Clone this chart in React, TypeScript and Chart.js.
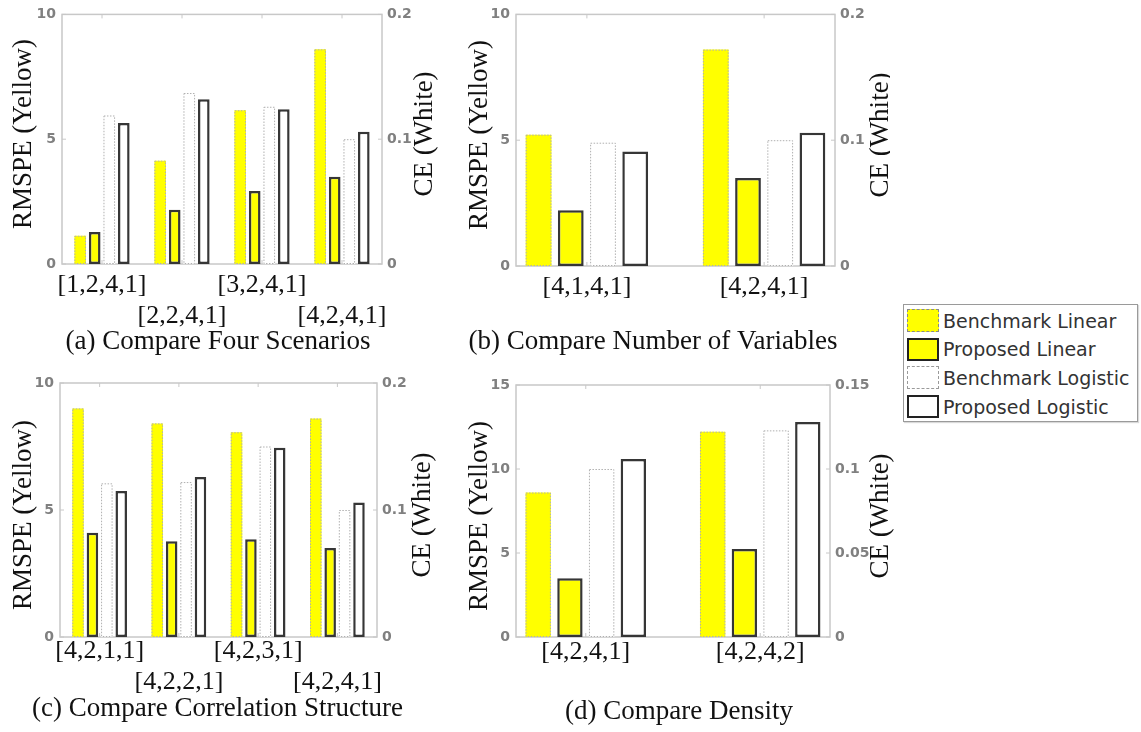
import React, { useEffect, useRef } from 'react';
import { Chart, registerables } from 'chart.js';

Chart.register(...registerables);

// ---- (a) Compare Four Scenarios ----
const scenarioLabels = ['[1,2,4,1]', '[2,2,4,1]', '[3,2,4,1]', '[4,2,4,1]'];
const scenarioBenchLinear = [1.13, 4.14, 6.16, 8.6];
const scenarioPropLinear = [1.28, 2.17, 2.92, 3.5];
const scenarioBenchLogistic = [0.119, 0.137, 0.126, 0.1];
const scenarioPropLogistic = [0.113, 0.132, 0.124, 0.106];

// ---- (b) Compare Number of Variables ----
const variableLabels = ['[4,1,4,1]', '[4,2,4,1]'];
const variableBenchLinear = [5.22, 8.6];
const variablePropLinear = [2.22, 3.5];
const variableBenchLogistic = [0.098, 0.1];
const variablePropLogistic = [0.091, 0.106];

// ---- (c) Compare Correlation Structure ----
const correlationLabels = ['[4,2,1,1]', '[4,2,2,1]', '[4,2,3,1]', '[4,2,4,1]'];
const correlationBenchLinear = [9.0, 8.41, 8.06, 8.6];
const correlationPropLinear = [4.1, 3.77, 3.85, 3.5];
const correlationBenchLogistic = [0.121, 0.122, 0.15, 0.1];
const correlationPropLogistic = [0.115, 0.126, 0.149, 0.106];

// ---- (d) Compare Density ----
const densityLabels = ['[4,2,4,1]', '[4,2,4,2]'];
const densityBenchLinear = [8.6, 12.22];
const densityPropLinear = [3.5, 5.24];
const densityBenchLogistic = [0.1, 0.123];
const densityPropLogistic = [0.106, 0.128];

// ---- axis ticks ----
const rmspeTicks = [0, 5, 10];
const ceTicks = [0, 0.1, 0.2];
const densityRmspeTicks = [0, 5, 10, 15];
const densityCeTicks = [0, 0.05, 0.1, 0.15];

const seriesNames = ['Benchmark Linear', 'Proposed Linear', 'Benchmark Logistic', 'Proposed Logistic'];
const leftAxisTitle = 'RMSPE (Yellow)';
const rightAxisTitle = 'CE (White)';

const SERIF = "'Liberation Serif', 'Times New Roman', serif";
const SANS = "'DejaVu Sans', 'Liberation Sans', sans-serif";
const YELLOW = '#ffff00';
const EDGE = '#363636';
const DOTTED = '#b0b0b0';
const FRAME = '#c8c8c8';
const TICK_TEXT = '#808080';

const TITLE_SIZE = 27;
const TITLE_LINE = 1.2;
const TITLE_PULL = 14; // caption is allowed to sit over the lower tick-label row area
const LABEL_SIZE = 26;
const LABEL_LINE = 1.19;

interface PanelSpec {
  title: string;
  labels: string[];
  benchLinear: number[];
  propLinear: number[];
  benchLogistic: number[];
  propLogistic: number[];
  rmspeTicks: number[];
  ceTicks: number[];
  stagger: boolean;
  xMin: number;
  xMax: number;
  // canvas placement on the page
  left: number;
  top: number;
  width: number;
  // plot box on the page
  plotL: number;
  plotT: number;
  plotR: number;
  plotB: number;
  // caption centre
  subX: number;
  subY: number;
  // rotated axis titles
  leftTitleX: number;
  rightTitleX: number;
  axisTitleY: number;
  labelPad: number;
}

const panels: PanelSpec[] = [
  {
    title: '(a) Compare Four Scenarios',
    labels: scenarioLabels,
    benchLinear: scenarioBenchLinear,
    propLinear: scenarioPropLinear,
    benchLogistic: scenarioBenchLogistic,
    propLogistic: scenarioPropLogistic,
    rmspeTicks,
    ceTicks,
    stagger: true,
    xMin: 0.5,
    xMax: 4.5,
    left: 0,
    top: 0,
    width: 460,
    plotL: 62,
    plotT: 13,
    plotR: 382,
    plotB: 264,
    subX: 218,
    subY: 342,
    leftTitleX: 24,
    rightTitleX: 425,
    axisTitleY: 134,
    labelPad: 5.5,
  },
  {
    title: '(b) Compare Number of Variables',
    labels: variableLabels,
    benchLinear: variableBenchLinear,
    propLinear: variablePropLinear,
    benchLogistic: variableBenchLogistic,
    propLogistic: variablePropLogistic,
    rmspeTicks,
    ceTicks,
    stagger: false,
    xMin: 0.6,
    xMax: 2.4,
    left: 420,
    top: 0,
    width: 470,
    plotL: 516,
    plotT: 13,
    plotR: 835,
    plotB: 266,
    subX: 653,
    subY: 342,
    leftTitleX: 480,
    rightTitleX: 881,
    axisTitleY: 135,
    labelPad: 5.5,
  },
  {
    title: '(c) Compare Correlation Structure',
    labels: correlationLabels,
    benchLinear: correlationBenchLinear,
    propLinear: correlationPropLinear,
    benchLogistic: correlationBenchLogistic,
    propLogistic: correlationPropLogistic,
    rmspeTicks,
    ceTicks,
    stagger: true,
    xMin: 0.5,
    xMax: 4.5,
    left: 0,
    top: 360,
    width: 460,
    plotL: 60,
    plotT: 383,
    plotR: 377,
    plotB: 637,
    subX: 217.5,
    subY: 709,
    leftTitleX: 24,
    rightTitleX: 423,
    axisTitleY: 515,
    labelPad: -1.5,
  },
  {
    title: '(d) Compare Density',
    labels: densityLabels,
    benchLinear: densityBenchLinear,
    propLinear: densityPropLinear,
    benchLogistic: densityBenchLogistic,
    propLogistic: densityPropLogistic,
    rmspeTicks: densityRmspeTicks,
    ceTicks: densityCeTicks,
    stagger: false,
    xMin: 0.6,
    xMax: 2.4,
    left: 460,
    top: 360,
    width: 440,
    plotL: 516,
    plotT: 385,
    plotR: 830,
    plotB: 637,
    subX: 679,
    subY: 712,
    leftTitleX: 480,
    rightTitleX: 881,
    axisTitleY: 516,
    labelPad: 0,
  },
];

function geometry(p: PanelSpec) {
  const lh = TITLE_SIZE * TITLE_LINE;
  const height = Math.ceil(p.subY - p.top + lh / 2);
  const padL = 0;
  const padR = p.width - 2 * (p.subX - p.left) + padL;
  // caption box starts TITLE_PULL below where its text would normally begin
  const titleBoxTop = p.subY - lh / 2 + TITLE_PULL;
  return {
    height,
    padL,
    padR,
    padT: p.plotT - p.top,
    padB: height - (p.subY - p.top + lh / 2),
    xHeight: titleBoxTop - p.plotB,
    yWidth: p.plotL - p.left - padL,
    y1Width: p.left + p.width - padR - p.plotR,
  };
}

const fmt = (v: number) => String(Number(v.toFixed(4)));

function PanelChart({ spec }: { spec: PanelSpec }) {
  const ref = useRef<HTMLCanvasElement>(null);
  const g = geometry(spec);

  useEffect(() => {
    const canvas = ref.current;
    if (!canvas) return;
    const xs = spec.labels.map((_, i) => i + 1);
    const toPoints = (vals: number[]) => vals.map((v, i) => ({ x: xs[i], y: v }));

    // light axis box with inward tick marks
    const framePlugin = {
      id: 'frame',
      beforeDatasetsDraw(chart: any) {
        const { ctx, chartArea: a, scales } = chart;
        ctx.save();
        ctx.strokeStyle = FRAME;
        ctx.lineWidth = 1.5;
        ctx.strokeRect(a.left, a.top, a.right - a.left, a.bottom - a.top);
        ctx.lineWidth = 1;
        ctx.beginPath();
        scales.x.ticks.forEach((t: any) => {
          const px = scales.x.getPixelForValue(t.value);
          ctx.moveTo(px, a.top);
          ctx.lineTo(px, a.top + 4);
          ctx.moveTo(px, a.bottom);
          ctx.lineTo(px, a.bottom - 4);
        });
        scales.y.ticks.forEach((t: any) => {
          const py = scales.y.getPixelForValue(t.value);
          ctx.moveTo(a.left, py);
          ctx.lineTo(a.left + 4, py);
        });
        scales.y1.ticks.forEach((t: any) => {
          const py = scales.y1.getPixelForValue(t.value);
          ctx.moveTo(a.right, py);
          ctx.lineTo(a.right - 4, py);
        });
        ctx.stroke();
        ctx.restore();
      },
    };

    // dotted outline around the benchmark bars
    const outlinePlugin = {
      id: 'dottedOutline',
      afterDatasetsDraw(chart: any) {
        const { ctx } = chart;
        ctx.save();
        ctx.strokeStyle = DOTTED;
        ctx.lineWidth = 1;
        ctx.setLineDash([1.5, 1.5]);
        [0, 2].forEach((di) => {
          const meta = chart.getDatasetMeta(di);
          meta.data.forEach((el: any) => {
            const { x, y, base, width } = el.getProps(['x', 'y', 'base', 'width'], true);
            ctx.strokeRect(x - width / 2 + 0.5, y + 0.5, width - 1, base - y - 1);
          });
        });
        ctx.restore();
      },
    };

    // rotated axis titles (both read bottom-to-top)
    const axisTitlePlugin = {
      id: 'axisTitles',
      afterDraw(chart: any) {
        const { ctx } = chart;
        const draw = (text: string, x: number) => {
          ctx.save();
          ctx.translate(x - spec.left, spec.axisTitleY - spec.top);
          ctx.rotate(-Math.PI / 2);
          ctx.fillStyle = '#111';
          ctx.font = `${TITLE_SIZE}px ${SERIF}`;
          ctx.textAlign = 'center';
          ctx.textBaseline = 'middle';
          ctx.fillText(text, 0, 0);
          ctx.restore();
        };
        draw(leftAxisTitle, spec.leftTitleX);
        draw(rightAxisTitle, spec.rightTitleX);
      },
    };

    const tickFont = { family: SANS, size: 14, weight: 'bold' as const };

    const chart = new Chart(canvas, {
      type: 'bar',
      data: {
        datasets: [
          {
            label: seriesNames[0],
            data: toPoints(spec.benchLinear),
            yAxisID: 'y',
            backgroundColor: YELLOW,
            borderWidth: 0,
          },
          {
            label: seriesNames[1],
            data: toPoints(spec.propLinear),
            yAxisID: 'y',
            backgroundColor: YELLOW,
            borderColor: EDGE,
            borderWidth: 2.5,
            borderSkipped: false,
          },
          {
            label: seriesNames[2],
            data: toPoints(spec.benchLogistic),
            yAxisID: 'y1',
            backgroundColor: '#ffffff',
            borderWidth: 0,
          },
          {
            label: seriesNames[3],
            data: toPoints(spec.propLogistic),
            yAxisID: 'y1',
            backgroundColor: '#ffffff',
            borderColor: EDGE,
            borderWidth: 2.5,
            borderSkipped: false,
          },
        ] as any,
      },
      options: {
        responsive: false,
        animation: false,
        devicePixelRatio: 1,
        layout: { padding: { left: g.padL, right: g.padR, top: g.padT, bottom: g.padB } },
        datasets: { bar: { categoryPercentage: 0.727, barPercentage: 0.8 } },
        plugins: {
          legend: { display: false },
          tooltip: { enabled: false },
          title: {
            display: true,
            text: spec.title,
            position: 'bottom',
            color: '#111',
            padding: { top: -TITLE_PULL, bottom: 0 },
            font: { family: SERIF, size: TITLE_SIZE, weight: 'normal', lineHeight: TITLE_LINE },
          },
        },
        scales: {
          x: {
            type: 'linear',
            min: spec.xMin,
            max: spec.xMax,
            offset: false,
            grid: { display: false, drawTicks: false },
            border: { display: false },
            afterBuildTicks: (s: any) => {
              s.ticks = xs.map((v) => ({ value: v }));
            },
            afterFit: (s: any) => {
              s.height = g.xHeight;
            },
            ticks: {
              autoSkip: false,
              maxRotation: 0,
              minRotation: 0,
              padding: spec.labelPad,
              color: '#111',
              font: { family: SERIF, size: LABEL_SIZE, lineHeight: LABEL_LINE },
              callback: (_v: any, i: number) =>
                spec.stagger && i % 2 === 1 ? ['', spec.labels[i]] : spec.labels[i],
            },
          },
          y: {
            type: 'linear',
            position: 'left',
            min: spec.rmspeTicks[0],
            max: spec.rmspeTicks[spec.rmspeTicks.length - 1],
            grid: { display: false, drawTicks: false },
            border: { display: false },
            afterBuildTicks: (s: any) => {
              s.ticks = spec.rmspeTicks.map((v) => ({ value: v }));
            },
            afterFit: (s: any) => {
              s.width = g.yWidth;
            },
            ticks: { padding: 6, color: TICK_TEXT, font: tickFont, callback: (v: any) => fmt(Number(v)) },
          },
          y1: {
            type: 'linear',
            position: 'right',
            min: spec.ceTicks[0],
            max: spec.ceTicks[spec.ceTicks.length - 1],
            grid: { display: false, drawTicks: false },
            border: { display: false },
            afterBuildTicks: (s: any) => {
              s.ticks = spec.ceTicks.map((v) => ({ value: v }));
            },
            afterFit: (s: any) => {
              s.width = g.y1Width;
            },
            ticks: { padding: 5, color: TICK_TEXT, font: tickFont, callback: (v: any) => fmt(Number(v)) },
          },
        },
      } as any,
      plugins: [framePlugin, outlinePlugin, axisTitlePlugin],
    });
    return () => chart.destroy();
  }, [spec]);

  return (
    <canvas
      ref={ref}
      width={spec.width}
      height={g.height}
      style={{ position: 'absolute', left: spec.left, top: spec.top, width: spec.width, height: g.height }}
    />
  );
}

const legendSwatches = [
  { fill: YELLOW, border: '1.5px dashed #8a8a8a' },
  { fill: YELLOW, border: '2.5px solid #222' },
  { fill: '#ffffff', border: '1.5px dashed #9a9a9a' },
  { fill: '#ffffff', border: '2.5px solid #222' },
];

function Legend() {
  return (
    <div
      style={{
        position: 'absolute',
        left: 903,
        top: 304,
        width: 235,
        height: 118,
        boxSizing: 'border-box',
        border: '1px solid #9a9a9a',
        background: '#fff',
        boxShadow: '1px 1px 1px rgba(0,0,0,0.15)',
      }}
    >
      {seriesNames.map((name, i) => (
        <div
          key={name}
          style={{ position: 'absolute', left: 3, top: 4 + i * 28.7, height: 23, display: 'flex', alignItems: 'center' }}
        >
          <div
            style={{
              width: 32,
              height: 23,
              boxSizing: 'border-box',
              background: legendSwatches[i].fill,
              border: legendSwatches[i].border,
            }}
          />
          <span style={{ marginLeft: 4, fontFamily: SANS, fontSize: 19, color: '#333', whiteSpace: 'nowrap' }}>
            {name}
          </span>
        </div>
      ))}
    </div>
  );
}

export default function App() {
  return (
    <div style={{ position: 'absolute', left: 0, top: 0, width: 1141, height: 732, background: '#fff', overflow: 'hidden' }}>
      {panels.map((p) => (
        <PanelChart key={p.title} spec={p} />
      ))}
      <Legend />
    </div>
  );
}
